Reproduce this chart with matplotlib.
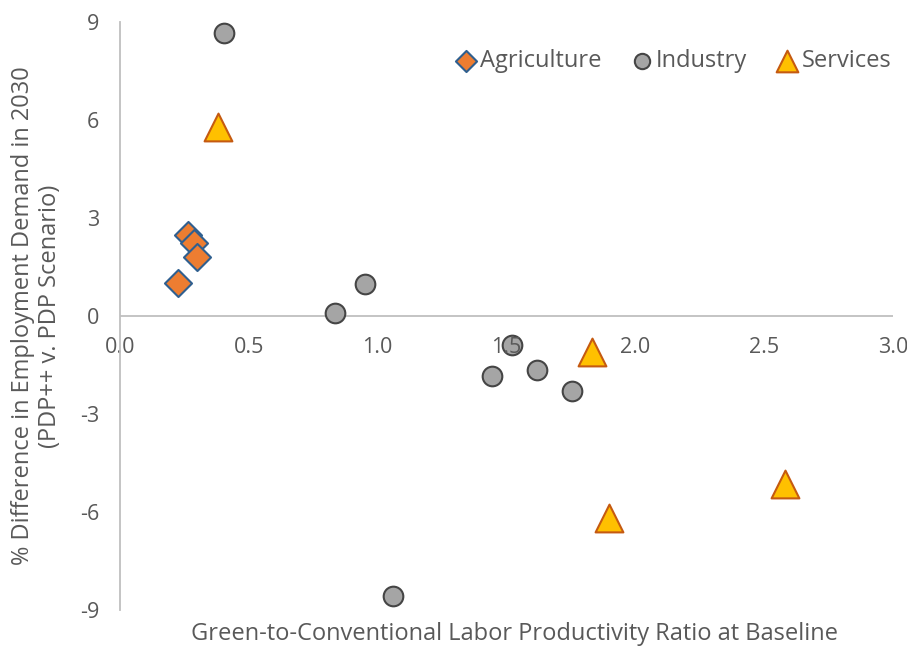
import matplotlib
matplotlib.use('Agg')
import matplotlib.pyplot as plt

agri_x = [0.264, 0.287, 0.300, 0.225]
agri_y = [2.48, 2.23, 1.81, 1.01]

ind_x = [0.404, 0.834, 0.951, 1.521, 1.444, 1.618, 1.754, 1.059]
ind_y = [8.66, 0.09, 0.98, -0.89, -1.84, -1.65, -2.30, -8.57]

serv_x = [0.380, 1.832, 1.898, 2.580]
serv_y = [5.79, -1.10, -6.18, -5.14]

x_ticks = [0.0, 0.5, 1.0, 1.5, 2.0, 2.5, 3.0]
y_ticks = [-9, -6, -3, 0, 3, 6, 9]

plt.rcParams['font.family'] = ['Open Sans', 'DejaVu Sans']
plt.rcParams['axes.unicode_minus'] = False
txt_color = '#595959'
line_color = '#BFBFBF'
tick_size = 15.5
label_size = 17

fig = plt.figure(figsize=(9.07, 6.46), dpi=100)
ax = fig.add_axes([0.1323, 0.0557, 0.8523, 0.9103])

ax.scatter(agri_x, agri_y, marker='D', s=190, color='#ED7D31',
           edgecolors='#2F5F8F', linewidths=1.5, zorder=1, label='Agriculture')
ax.scatter(ind_x, ind_y, marker='o', s=200, color='#A5A5A5',
           edgecolors='#454545', linewidths=1.5, zorder=1, label='Industry')
ax.scatter(serv_x, serv_y, marker='^', s=400, color='#FFC000',
           edgecolors='#C55A11', linewidths=1.5, zorder=1, label='Services')

ax.set_xlim(0, 3)
ax.set_ylim(-9, 9)
ax.set_xticks(x_ticks)
ax.set_xticklabels(['{0:.1f}'.format(v) for v in x_ticks])
ax.set_yticks(y_ticks)

# horizontal zero line under the markers, tick labels follow the hidden spine
ax.axhline(0, color=line_color, linewidth=1.3, zorder=0.5)
ax.spines['bottom'].set_position(('data', 0))
ax.spines['bottom'].set_visible(False)
ax.spines['top'].set_visible(False)
ax.spines['right'].set_visible(False)
ax.spines['left'].set_color(line_color)
ax.spines['left'].set_linewidth(1.3)

ax.tick_params(axis='x', length=0, pad=15, labelsize=tick_size, labelcolor=txt_color)
ax.tick_params(axis='y', length=0, pad=15, labelsize=tick_size, labelcolor=txt_color)

ax.set_xlabel('Green-to-Conventional Labor Productivity Ratio at Baseline',
              fontsize=label_size, color=txt_color, va='center')
ax.xaxis.set_label_coords(0.51, -0.041)
ax.set_ylabel('% Difference in Employment Demand in 2030\n(PDP++ v. PDP Scenario)',
              fontsize=label_size, color=txt_color, va='center')
ax.yaxis.set_label_coords(-0.108, 0.5)

leg = ax.legend(loc='upper right', ncol=3, frameon=False, fontsize=label_size,
                markerscale=0.78, handlelength=0.8, handletextpad=0.2,
                columnspacing=1.3, bbox_to_anchor=(1.01, 0.97), borderaxespad=0)
for t in leg.get_texts():
    t.set_color(txt_color)

plt.savefig('out.png', dpi=100)
